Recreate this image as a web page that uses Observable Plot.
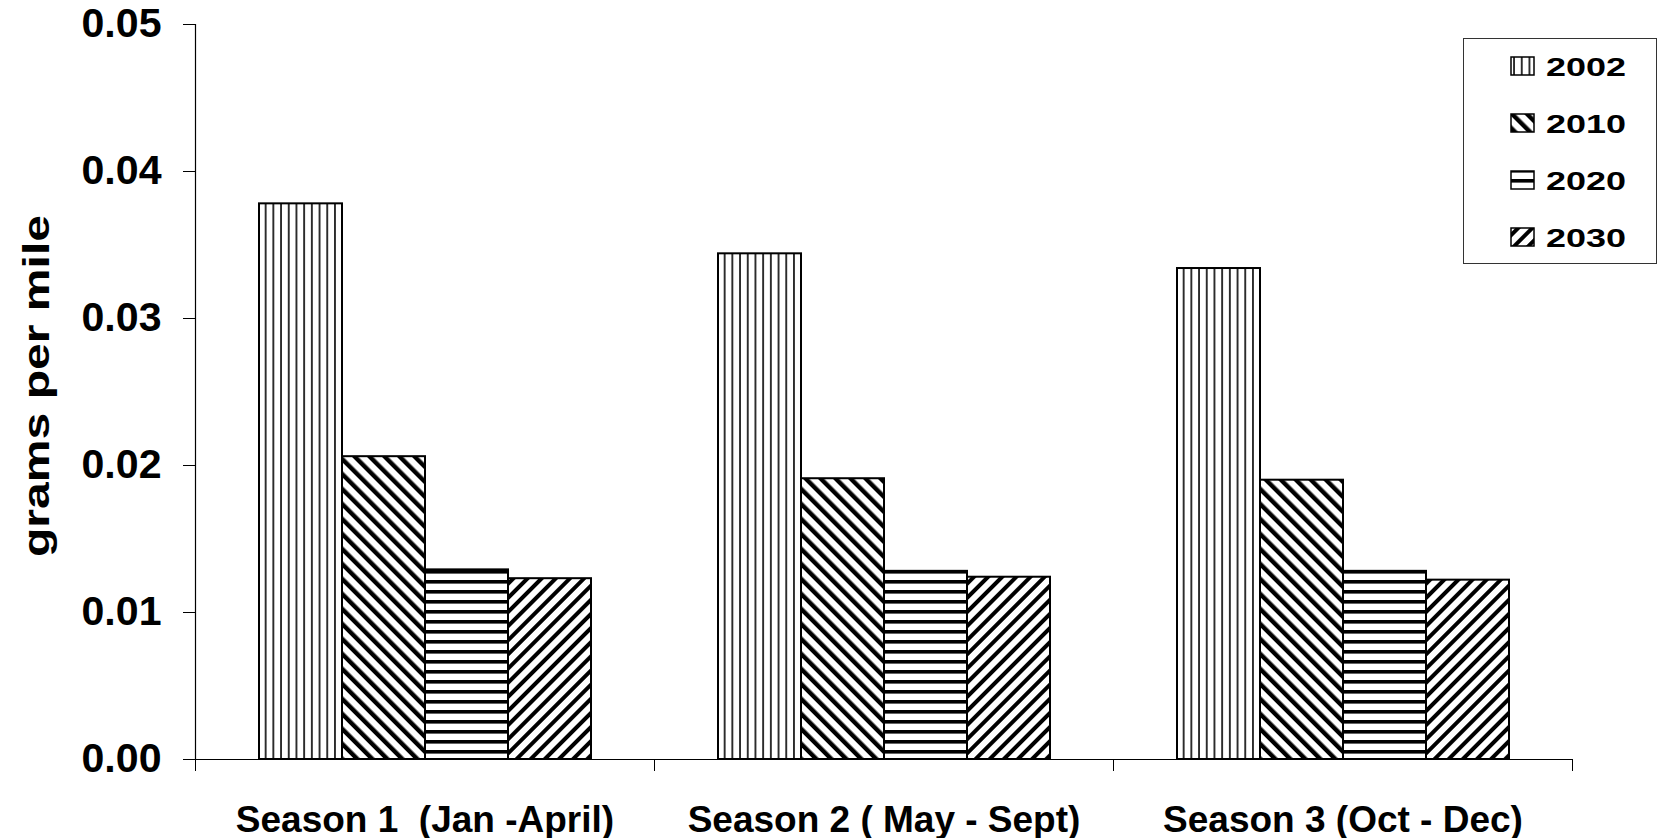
<!DOCTYPE html>
<html>
<head>
<meta charset="utf-8">
<script src="https://cdn.jsdelivr.net/npm/d3@7"></script>
<script src="https://cdn.jsdelivr.net/npm/@observablehq/plot@0.6"></script>
<style>
  html, body { margin: 0; padding: 0; background: #fff; overflow: hidden; }
  #wrap { position: relative; width: 1658px; height: 838px; }
  svg text { white-space: pre; }
  #legend { position: absolute; left: 1463px; top: 38px; width: 194px; height: 226px; border: 1px solid #333; background: #fff; box-sizing: border-box; }
  #ytitle { position: absolute; left: 0; top: 0; }
</style>
</head>
<body>
<svg width="0" height="0" style="position:absolute">
  <defs>
    <pattern id="p2002" patternUnits="userSpaceOnUse" width="7.7" height="10">
      <rect width="7.7" height="10" fill="#fff"/>
      <rect x="3" width="1.7" height="10" fill="#111"/>
    </pattern>
    <pattern id="p2010" patternUnits="userSpaceOnUse" width="10.6" height="10" patternTransform="rotate(-45)">
      <rect width="10.6" height="10" fill="#fff"/>
      <rect x="0" width="4.4" height="10" fill="#000"/>
    </pattern>
    <pattern id="p2020" patternUnits="userSpaceOnUse" width="10" height="10">
      <rect width="10" height="10" fill="#fff"/>
      <rect y="0" width="10" height="3.6" fill="#000"/>
    </pattern>
    <pattern id="p2030" patternUnits="userSpaceOnUse" width="10" height="10" patternTransform="rotate(45)">
      <rect width="10" height="10" fill="#fff"/>
      <rect x="0" width="4" height="10" fill="#000"/>
    </pattern>
  </defs>
</svg>
<div id="wrap">
  <div id="chart"></div>
  <svg id="ytitle" width="80" height="838"></svg>
  <div id="legend"></div>
</div>
<script>
// ---- data ----
const seasons = ["Season 1  (Jan -April)", "Season 2 ( May - Sept)", "Season 3 (Oct - Dec)"];
const years = ["2002", "2010", "2020", "2030"];
const v2002 = [0.0378, 0.0344, 0.0334];
const v2010 = [0.0206, 0.0191, 0.0190];
const v2020 = [0.0129, 0.0128, 0.0128];
const v2030 = [0.0123, 0.0124, 0.0122];
const yDomain = [0, 0.05];
const yTicks = [0, 0.01, 0.02, 0.03, 0.04, 0.05];
const yTickLabels = ["0.00", "0.01", "0.02", "0.03", "0.04", "0.05"];
const yTitle = "grams per mile";

const series = {"2002": v2002, "2010": v2010, "2020": v2020, "2030": v2030};
const data = [];
seasons.forEach((s, i) => years.forEach(y => data.push({season: s, year: y, value: series[y][i]})));

const W = 1658, H = 838, mL = 195, mR = 86, mT = 24, mB = 79;
const half = (W - mL - mR) / seasons.length / 2;
const font = "'Liberation Sans', Arial, Helvetica, sans-serif";

const chart = Plot.plot({
  width: W, height: H,
  marginLeft: mL, marginRight: mR, marginTop: mT, marginBottom: mB,
  style: {fontFamily: font, fontWeight: "bold", background: "#fff", color: "#000", overflow: "visible"},
  fx: {domain: seasons, padding: 0, label: null},
  x: {domain: years, paddingInner: 0, paddingOuter: 0.75, axis: null},
  y: {domain: yDomain, label: null},
  color: {type: "identity"},
  marks: [
    Plot.barY(data, {fx: "season", x: "year", y: "value", fill: d => `url(#p${d.year})`, stroke: "#000", strokeWidth: 2}),
    Plot.ruleY([yDomain[0]], {stroke: "#000", strokeWidth: 1.2}),
    Plot.ruleX([seasons[0]], {fx: d => d, x: null, y1: yDomain[0], y2: yDomain[1], dx: -half, stroke: "#000", strokeWidth: 1.2}),
    Plot.axisY({ticks: yTicks, tickFormat: d => yTickLabels[yTicks.indexOf(d)], tickSize: 12, tickPadding: 22, fontSize: 40, label: null, ariaLabel: "y-axis"}),
    Plot.axisFx({anchor: "bottom", tickSize: 0, tickPadding: 46, fontSize: 37, label: null}),
    Plot.axisFx({anchor: "bottom", tickSize: 12, text: null, dx: -half, label: null}),
    Plot.axisFx({anchor: "bottom", tickSize: 12, text: null, dx: half, label: null})
  ]
});
document.getElementById("chart").appendChild(chart);

// y tick labels are drawn a little wide in the reference
d3.select(chart).selectAll('g[aria-label="y-axis tick label"] text')
  .attr("textLength", 80).attr("lengthAdjust", "spacingAndGlyphs");

// ---- y-axis title ----
d3.select("#ytitle").append("text")
  .attr("transform", "translate(36,386) rotate(-90)")
  .attr("text-anchor", "middle").attr("dominant-baseline", "central")
  .attr("font-family", font).attr("font-weight", "bold").attr("font-size", 37)
  .attr("textLength", 342).attr("lengthAdjust", "spacingAndGlyphs")
  .text(yTitle);

// ---- legend ----
const lg = d3.select("#legend").append("svg").attr("width", 192).attr("height", 224)
  .style("font-family", font).style("font-weight", "bold");
years.forEach((y, i) => {
  const cy = 27 + 57 * i;
  lg.append("rect").attr("x", 47).attr("y", cy - 9).attr("width", 23).attr("height", 18)
    .attr("fill", `url(#p${y})`).attr("stroke", "#000").attr("stroke-width", 1.5);
  lg.append("text").attr("x", 82).attr("y", cy + 9.5).attr("font-size", 26)
    .attr("textLength", 80).attr("lengthAdjust", "spacingAndGlyphs").text(y);
});
</script>
</body>
</html>
